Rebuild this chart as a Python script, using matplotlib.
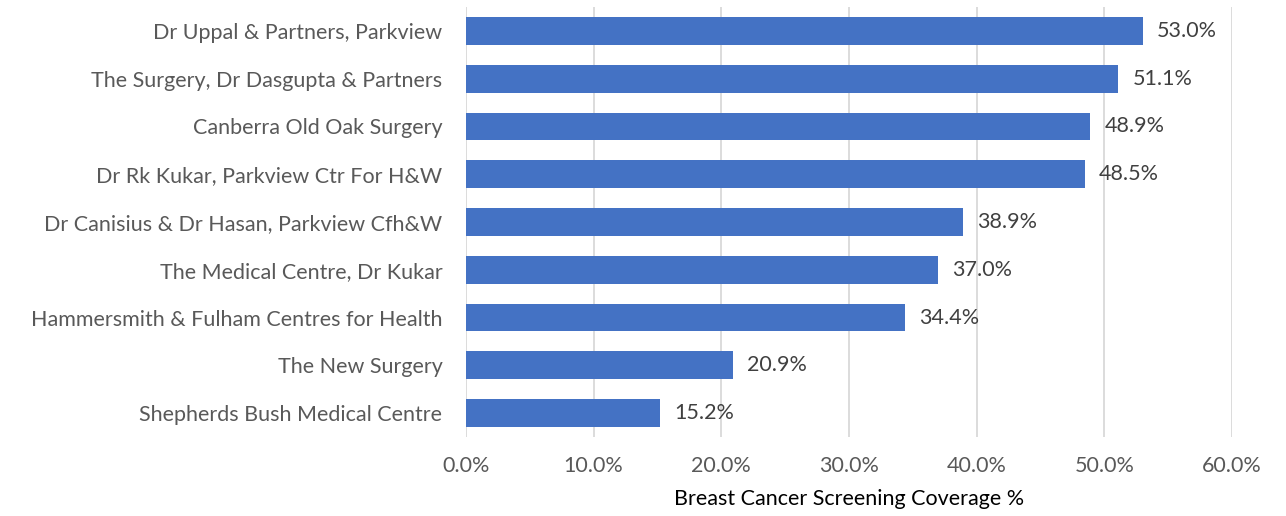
import matplotlib
matplotlib.use("Agg")
import matplotlib.pyplot as plt
from matplotlib.ticker import FuncFormatter

categories = [
    "Dr Uppal & Partners, Parkview",
    "The Surgery, Dr Dasgupta & Partners",
    "Canberra Old Oak Surgery",
    "Dr Rk Kukar, Parkview Ctr For H&W",
    "Dr Canisius & Dr Hasan, Parkview Cfh&W",
    "The Medical Centre, Dr Kukar",
    "Hammersmith & Fulham Centres for Health",
    "The New Surgery",
    "Shepherds Bush Medical Centre",
]
values = [53.0, 51.1, 48.9, 48.5, 38.9, 37.0, 34.4, 20.9, 15.2]
xticks = [0, 10, 20, 30, 40, 50, 60]
xlabel = "Breast Cancer Screening Coverage %"

plt.rcParams['font.family'] = ['Lato', 'DejaVu Sans']
text_color = "#595959"

fig = plt.figure(figsize=(12.86, 5.16), dpi=100)
ax = fig.add_axes([466/1286, 1-437/516, (1232-466)/1286, (437-7)/516])

y = list(range(len(categories)))
ax.barh(y, values, height=0.58, color="#4472C4", zorder=3)
ax.set_ylim(len(categories)-0.5, -0.5)
ax.set_xlim(0, 60)
ax.set_yticks(y)
ax.set_yticklabels(categories, fontsize=15.5, color=text_color)
ax.set_xticks(xticks)
ax.xaxis.set_major_formatter(FuncFormatter(lambda v, p: f"{v:.1f}%"))
ax.tick_params(axis='x', labelsize=15.5, colors=text_color, length=0, pad=14)
ax.tick_params(axis='y', length=0, pad=17)
ax.grid(axis='x', color="#D9D9D9", linewidth=1.3, zorder=0)
for s in ax.spines.values():
    s.set_visible(False)

for yi, v in zip(y, values):
    ax.text(v + 1.1, yi, f"{v:.1f}%", va='center', ha='left', fontsize=15.5, color="#404040")

ax.set_xlabel(xlabel, fontsize=15.5, color="#000000", labelpad=9)

fig.savefig("out.png", dpi=100)
